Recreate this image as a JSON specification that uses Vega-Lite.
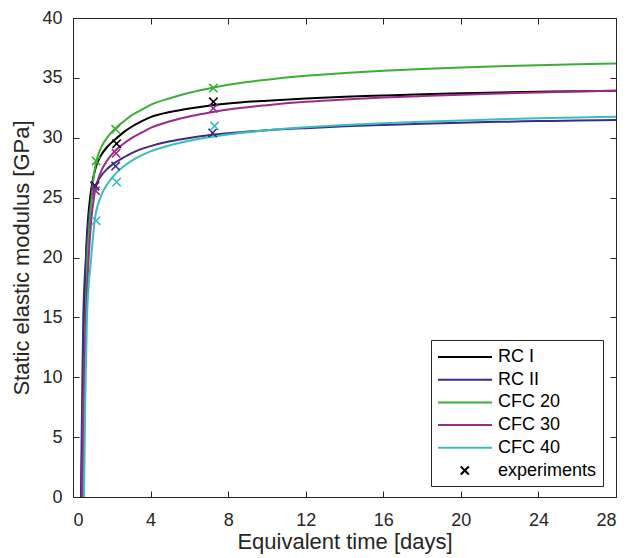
{
  "$schema": "https://vega.github.io/schema/vega-lite/v6.json",
  "width": 543,
  "height": 479,
  "autosize": {"type": "none"},
  "padding": {"left": 73, "top": 18, "right": 22, "bottom": 61},
  "background": "white",
  "config": {
    "font": "Liberation Sans",
    "view": {"stroke": "#262626", "strokeWidth": 1},
    "axis": {
      "grid": false,
      "domainColor": "#262626",
      "tickColor": "#262626",
      "labelColor": "#262626",
      "titleColor": "#262626",
      "labelFontSize": 18,
      "titleFontSize": 22,
      "titleFontWeight": "normal",
      "tickSize": -6
    }
  },
  "datasets": {
    "curves": [
      {"series": "RC I", "t": 0.43, "E": 0}, {"series": "RC I", "t": 0.5, "E": 8}, {"series": "RC I", "t": 0.6, "E": 15}, {"series": "RC I", "t": 0.67, "E": 20}, {"series": "RC I", "t": 0.77, "E": 23.1}, {"series": "RC I", "t": 0.9, "E": 25.2}, {"series": "RC I", "t": 1.0, "E": 26.3}, {"series": "RC I", "t": 1.15, "E": 27.4}, {"series": "RC I", "t": 1.4, "E": 28.4}, {"series": "RC I", "t": 1.8, "E": 29.3}, {"series": "RC I", "t": 2.2, "E": 29.9}, {"series": "RC I", "t": 2.6, "E": 30.45}, {"series": "RC I", "t": 3.0, "E": 30.9}, {"series": "RC I", "t": 3.5, "E": 31.35}, {"series": "RC I", "t": 4, "E": 31.72}, {"series": "RC I", "t": 5, "E": 32.15}, {"series": "RC I", "t": 6, "E": 32.45}, {"series": "RC I", "t": 7, "E": 32.68}, {"series": "RC I", "t": 8, "E": 32.86}, {"series": "RC I", "t": 10, "E": 33.1}, {"series": "RC I", "t": 12, "E": 33.28}, {"series": "RC I", "t": 14, "E": 33.42}, {"series": "RC I", "t": 16, "E": 33.53}, {"series": "RC I", "t": 18, "E": 33.63}, {"series": "RC I", "t": 20, "E": 33.71}, {"series": "RC I", "t": 22, "E": 33.78}, {"series": "RC I", "t": 24, "E": 33.84}, {"series": "RC I", "t": 26, "E": 33.89}, {"series": "RC I", "t": 28, "E": 33.93},
      {"series": "RC II", "t": 0.41, "E": 0}, {"series": "RC II", "t": 0.47, "E": 8}, {"series": "RC II", "t": 0.53, "E": 15}, {"series": "RC II", "t": 0.67, "E": 20}, {"series": "RC II", "t": 0.8, "E": 23.1}, {"series": "RC II", "t": 0.95, "E": 24.8}, {"series": "RC II", "t": 1.12, "E": 25.8}, {"series": "RC II", "t": 1.4, "E": 26.7}, {"series": "RC II", "t": 1.8, "E": 27.45}, {"series": "RC II", "t": 2.2, "E": 27.95}, {"series": "RC II", "t": 2.6, "E": 28.35}, {"series": "RC II", "t": 3.0, "E": 28.7}, {"series": "RC II", "t": 3.5, "E": 29.05}, {"series": "RC II", "t": 4, "E": 29.3}, {"series": "RC II", "t": 5, "E": 29.7}, {"series": "RC II", "t": 6, "E": 29.98}, {"series": "RC II", "t": 7, "E": 30.2}, {"series": "RC II", "t": 8, "E": 30.37}, {"series": "RC II", "t": 10, "E": 30.62}, {"series": "RC II", "t": 12, "E": 30.8}, {"series": "RC II", "t": 14, "E": 30.95}, {"series": "RC II", "t": 16, "E": 31.07}, {"series": "RC II", "t": 18, "E": 31.17}, {"series": "RC II", "t": 20, "E": 31.26}, {"series": "RC II", "t": 22, "E": 31.33}, {"series": "RC II", "t": 24, "E": 31.39}, {"series": "RC II", "t": 26, "E": 31.44}, {"series": "RC II", "t": 28, "E": 31.48},
      {"series": "CFC 20", "t": 0.48, "E": 0}, {"series": "CFC 20", "t": 0.55, "E": 8}, {"series": "CFC 20", "t": 0.64, "E": 15}, {"series": "CFC 20", "t": 0.74, "E": 20}, {"series": "CFC 20", "t": 0.88, "E": 23.3}, {"series": "CFC 20", "t": 1.0, "E": 25.8}, {"series": "CFC 20", "t": 1.1, "E": 27.1}, {"series": "CFC 20", "t": 1.19, "E": 27.95}, {"series": "CFC 20", "t": 1.35, "E": 28.8}, {"series": "CFC 20", "t": 1.5, "E": 29.35}, {"series": "CFC 20", "t": 1.8, "E": 30.1}, {"series": "CFC 20", "t": 2.2, "E": 30.8}, {"series": "CFC 20", "t": 2.6, "E": 31.35}, {"series": "CFC 20", "t": 3.0, "E": 31.85}, {"series": "CFC 20", "t": 3.5, "E": 32.3}, {"series": "CFC 20", "t": 4, "E": 32.75}, {"series": "CFC 20", "t": 5, "E": 33.3}, {"series": "CFC 20", "t": 6, "E": 33.75}, {"series": "CFC 20", "t": 7.25, "E": 34.2}, {"series": "CFC 20", "t": 8, "E": 34.43}, {"series": "CFC 20", "t": 10, "E": 34.85}, {"series": "CFC 20", "t": 12, "E": 35.17}, {"series": "CFC 20", "t": 14, "E": 35.4}, {"series": "CFC 20", "t": 16, "E": 35.59}, {"series": "CFC 20", "t": 18, "E": 35.74}, {"series": "CFC 20", "t": 20, "E": 35.86}, {"series": "CFC 20", "t": 22, "E": 35.97}, {"series": "CFC 20", "t": 24, "E": 36.06}, {"series": "CFC 20", "t": 26, "E": 36.14}, {"series": "CFC 20", "t": 28, "E": 36.21},
      {"series": "CFC 30", "t": 0.47, "E": 0}, {"series": "CFC 30", "t": 0.55, "E": 8}, {"series": "CFC 30", "t": 0.67, "E": 15}, {"series": "CFC 30", "t": 0.81, "E": 20}, {"series": "CFC 30", "t": 0.94, "E": 23.1}, {"series": "CFC 30", "t": 1.13, "E": 25.5}, {"series": "CFC 30", "t": 1.4, "E": 27.0}, {"series": "CFC 30", "t": 1.8, "E": 28.2}, {"series": "CFC 30", "t": 2.2, "E": 28.95}, {"series": "CFC 30", "t": 2.6, "E": 29.5}, {"series": "CFC 30", "t": 3.0, "E": 29.95}, {"series": "CFC 30", "t": 3.5, "E": 30.4}, {"series": "CFC 30", "t": 4, "E": 30.82}, {"series": "CFC 30", "t": 5, "E": 31.38}, {"series": "CFC 30", "t": 6, "E": 31.78}, {"series": "CFC 30", "t": 7, "E": 32.08}, {"series": "CFC 30", "t": 8, "E": 32.35}, {"series": "CFC 30", "t": 10, "E": 32.72}, {"series": "CFC 30", "t": 12, "E": 33.0}, {"series": "CFC 30", "t": 14, "E": 33.2}, {"series": "CFC 30", "t": 16, "E": 33.36}, {"series": "CFC 30", "t": 18, "E": 33.48}, {"series": "CFC 30", "t": 20, "E": 33.59}, {"series": "CFC 30", "t": 22, "E": 33.69}, {"series": "CFC 30", "t": 24, "E": 33.78}, {"series": "CFC 30", "t": 26, "E": 33.86}, {"series": "CFC 30", "t": 28, "E": 33.93},
      {"series": "CFC 40", "t": 0.57, "E": 0}, {"series": "CFC 40", "t": 0.63, "E": 8}, {"series": "CFC 40", "t": 0.72, "E": 15}, {"series": "CFC 40", "t": 0.94, "E": 20}, {"series": "CFC 40", "t": 1.12, "E": 23.1}, {"series": "CFC 40", "t": 1.4, "E": 24.95}, {"series": "CFC 40", "t": 1.8, "E": 26.2}, {"series": "CFC 40", "t": 2.2, "E": 27.0}, {"series": "CFC 40", "t": 2.6, "E": 27.6}, {"series": "CFC 40", "t": 3.0, "E": 28.05}, {"series": "CFC 40", "t": 3.5, "E": 28.5}, {"series": "CFC 40", "t": 4, "E": 28.86}, {"series": "CFC 40", "t": 5, "E": 29.38}, {"series": "CFC 40", "t": 6, "E": 29.75}, {"series": "CFC 40", "t": 7, "E": 30.04}, {"series": "CFC 40", "t": 8, "E": 30.27}, {"series": "CFC 40", "t": 10, "E": 30.62}, {"series": "CFC 40", "t": 12, "E": 30.87}, {"series": "CFC 40", "t": 14, "E": 31.06}, {"series": "CFC 40", "t": 16, "E": 31.21}, {"series": "CFC 40", "t": 18, "E": 31.34}, {"series": "CFC 40", "t": 20, "E": 31.45}, {"series": "CFC 40", "t": 22, "E": 31.55}, {"series": "CFC 40", "t": 24, "E": 31.63}, {"series": "CFC 40", "t": 26, "E": 31.7}, {"series": "CFC 40", "t": 28, "E": 31.76}
    ],
    "exp": [
      {"series": "RC I", "t": 1.13, "E": 26.0}, {"series": "RC I", "t": 2.25, "E": 29.5}, {"series": "RC I", "t": 7.24, "E": 33.0},
      {"series": "RC II", "t": 1.12, "E": 25.95}, {"series": "RC II", "t": 2.2, "E": 27.64}, {"series": "RC II", "t": 7.2, "E": 30.4},
      {"series": "CFC 20", "t": 1.19, "E": 28.06}, {"series": "CFC 20", "t": 2.2, "E": 30.7}, {"series": "CFC 20", "t": 7.24, "E": 34.15},
      {"series": "CFC 30", "t": 1.16, "E": 25.58}, {"series": "CFC 30", "t": 2.22, "E": 28.7}, {"series": "CFC 30", "t": 7.24, "E": 32.46},
      {"series": "CFC 40", "t": 1.19, "E": 23.07}, {"series": "CFC 40", "t": 2.25, "E": 26.3}, {"series": "CFC 40", "t": 7.3, "E": 30.98}
    ],
    "legend": [
      {"series": "RC I"}, {"series": "RC II"}, {"series": "CFC 20"}, {"series": "CFC 30"}, {"series": "CFC 40"}, {"series": "experiments"}
    ]
  },
  "layer": [
    {
      "data": {"name": "legend"},
      "mark": {"type": "point", "filled": false, "size": 400, "opacity": 0, "strokeWidth": 2},
      "encoding": {
        "color": {"field": "series", "type": "nominal",
                  "scale": {"domain": ["RC I", "RC II", "CFC 20", "CFC 30", "CFC 40", "experiments"], "range": ["#000000", "#3b2a8c", "#3dae35", "#9b2b8b", "#3cbdbd", "#000000"]},
                  "legend": {"title": null, "orient": "none", "legendX": 358, "legendY": 322, "strokeColor": "#262626", "fillColor": "white", "padding": 6,
                             "labelFontSize": 18, "labelColor": "#000000", "symbolSize": 400, "symbolStrokeWidth": 2, "labelOffset": 39, "rowPadding": 2.7, "symbolFillColor": "transparent", "symbolOpacity": 1,
                             "labelExpr": "datum.label == 'experiments' ? 'experiments\u00a0\u00a0' : datum.label"}},
        "shape": {"field": "series", "type": "nominal",
                  "scale": {"domain": ["RC I", "RC II", "CFC 20", "CFC 30", "CFC 40", "experiments"],
                            "range": ["M-1,0L4.4,0", "M-1,0L4.4,0", "M-1,0L4.4,0", "M-1,0L4.4,0", "M-1,0L4.4,0", "M1.28,-0.4L2.08,0.4M1.28,0.4L2.08,-0.4"]},
                  "legend": {"title": null, "orient": "none", "legendX": 358, "legendY": 322, "strokeColor": "#262626", "fillColor": "white", "padding": 6,
                             "labelFontSize": 18, "labelColor": "#000000", "symbolSize": 400, "symbolStrokeWidth": 2, "labelOffset": 39, "rowPadding": 2.7, "symbolFillColor": "transparent", "symbolOpacity": 1,
                             "labelExpr": "datum.label == 'experiments' ? 'experiments\u00a0\u00a0' : datum.label"}}
      }
    },
    {
      "data": {"name": "curves"},
      "mark": {"type": "line", "strokeWidth": 2, "interpolate": "monotone"},
      "encoding": {
        "x": {"field": "t", "type": "quantitative", "scale": {"domain": [0, 28], "nice": false, "zero": false},
              "axis": {"values": [0, 4, 8, 12, 16, 20, 24, 28], "title": "Equivalent time [days]", "labelPadding": 20, "titlePadding": 2}},
        "y": {"field": "E", "type": "quantitative", "scale": {"domain": [0, 40], "nice": false},
              "axis": {"values": [0, 5, 10, 15, 20, 25, 30, 35, 40], "title": "Static elastic modulus [GPa]", "labelPadding": 17, "titlePadding": 8}},
        "color": {"field": "series", "type": "nominal",
                  "scale": {"domain": ["RC I", "RC II", "CFC 20", "CFC 30", "CFC 40", "experiments"], "range": ["#000000", "#3b2a8c", "#3dae35", "#9b2b8b", "#3cbdbd", "#000000"]},
                  "legend": null}
      }
    },
    {
      "data": {"name": "exp"},
      "mark": {"type": "point", "shape": "M-1,-1L1,1M-1,1L1,-1", "filled": false, "size": 70, "strokeWidth": 1.6, "opacity": 1},
      "encoding": {
        "x": {"field": "t", "type": "quantitative", "scale": {"domain": [0, 28], "nice": false, "zero": false},
              "axis": {"orient": "top", "values": [0, 4, 8, 12, 16, 20, 24, 28], "labels": false, "title": null, "domain": false}},
        "y": {"field": "E", "type": "quantitative", "scale": {"domain": [0, 40], "nice": false},
              "axis": {"orient": "right", "values": [0, 5, 10, 15, 20, 25, 30, 35, 40], "labels": false, "title": null, "domain": false}},
        "color": {"field": "series", "type": "nominal",
                  "scale": {"domain": ["RC I", "RC II", "CFC 20", "CFC 30", "CFC 40", "experiments"], "range": ["#000000", "#3b2a8c", "#3dae35", "#9b2b8b", "#3cbdbd", "#000000"]},
                  "legend": null}
      }
    }
  ],
  "resolve": {"axis": {"x": "independent", "y": "independent"}}
}
